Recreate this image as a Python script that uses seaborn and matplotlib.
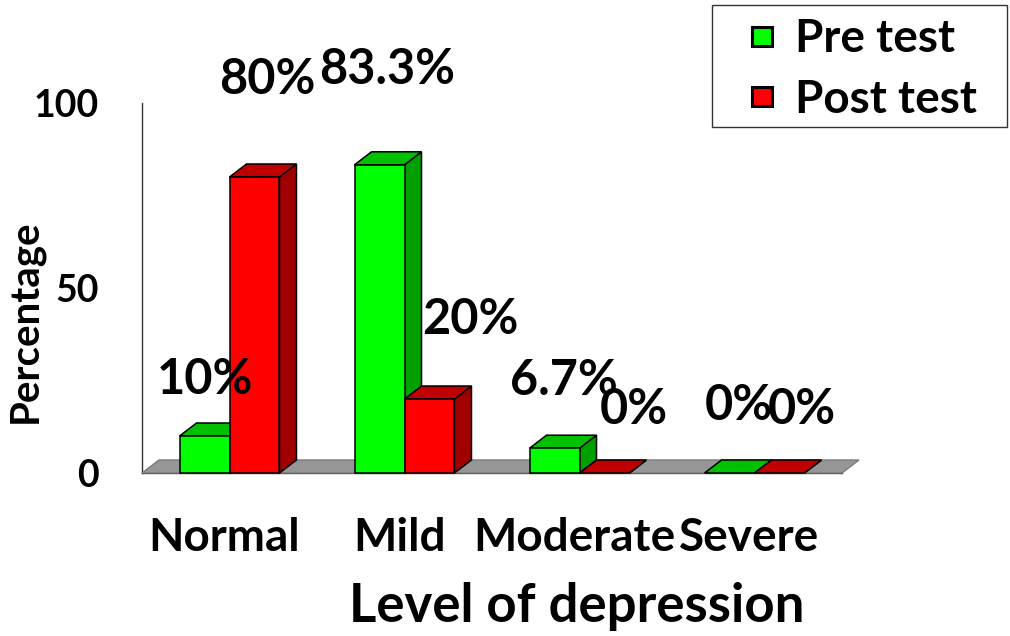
import numpy as np
import pandas as pd
import matplotlib
matplotlib.use("Agg")
import matplotlib.pyplot as plt
import matplotlib.transforms as mtransforms
import seaborn as sns
from matplotlib.patches import Polygon, Rectangle, Patch
from matplotlib.legend_handler import HandlerPatch

# ---------------- data ----------------
categories = ["Normal", "Mild", "Moderate", "Severe"]
pre_test = [10, 83.3, 6.7, 0]
post_test = [80, 20, 0, 0]
series_names = ["Pre test", "Post test"]
y_ticks = [0, 50, 100]

# ---------------- style ----------------
front_colors = {"Pre test": "#00FF00", "Post test": "#FF0000"}
top_colors = {"Pre test": "#00C000", "Post test": "#C00000"}
side_colors = {"Pre test": "#00A000", "Post test": "#A00000"}
# label offsets (pixels) from the bar's top-centre, per series
label_offsets = {
    "Pre test": [(0, 56), (8, 95), (9, 68), (9, 68)],
    "Post test": [(13, 97), (41, 79), (29, 63), (22, 63)],
}
DEPTH_PX = (17, 13)

sns.set_style("white")
plt.rcParams["font.family"] = ["Lato", "DejaVu Sans"]
plt.rcParams["font.weight"] = "bold"
plt.rcParams["text.color"] = "black"
plt.rcParams["axes.labelcolor"] = "black"
plt.rcParams["xtick.color"] = "black"
plt.rcParams["ytick.color"] = "black"

df = pd.DataFrame({
    "Level": categories * 2,
    "Percentage": pre_test + post_test,
    "Test": [series_names[0]] * len(categories) + [series_names[1]] * len(categories),
})

fig = plt.figure(figsize=(10.10, 6.36), dpi=100)
ax = fig.add_axes([142 / 1010, (636 - 473) / 636, 700 / 1010, 370 / 636])

sns.barplot(data=df, x="Level", y="Percentage", hue="Test",
            order=categories, hue_order=series_names,
            palette=front_colors, saturation=1, width=0.571,
            edgecolor="black", linewidth=1.1, legend=False, ax=ax)

ax.set_xlim(-0.5, len(categories) - 0.5)
ax.set_ylim(0, 100)

# depth in data units
inv = ax.transData.inverted()
p0 = ax.transData.transform((0, 0))
p1 = inv.transform(p0 + np.array(DEPTH_PX))
ddx, ddy = p1[0], p1[1]

# floor
x0, x1 = ax.get_xlim()
floor = Polygon([(x0, 0), (x0 + ddx, ddy), (x1 + ddx, ddy), (x1, 0)],
                closed=True, facecolor="#969696", edgecolor="#7a7a7a",
                linewidth=1.0, zorder=1, clip_on=False)
ax.add_patch(floor)

# 3D faces on each bar, drawn series by series so later bars overlap
z = 2
for ci, cont in enumerate(ax.containers):
    name = series_names[ci]
    for bi, bar in enumerate(cont.patches):
        bx0 = bar.get_x()
        bx1 = bx0 + bar.get_width()
        h = bar.get_height()
        side = Polygon([(bx1, 0), (bx1 + ddx, ddy), (bx1 + ddx, h + ddy), (bx1, h)],
                       closed=True, facecolor=side_colors[name], edgecolor="black",
                       linewidth=1.1, zorder=z + bi * 10 + ci * 3, clip_on=False)
        top = Polygon([(bx0, h), (bx0 + ddx, h + ddy), (bx1 + ddx, h + ddy), (bx1, h)],
                      closed=True, facecolor=top_colors[name], edgecolor="black",
                      linewidth=1.1, zorder=z + bi * 10 + ci * 3 + 1, clip_on=False)
        ax.add_patch(side)
        ax.add_patch(top)
        bar.set_zorder(z + bi * 10 + ci * 3 + 2)
        bar.set_clip_on(False)
        if h == 0:
            bar.set_visible(False)
        dxo, dyo = label_offsets[name][bi]
        ax.annotate(f"{h:g}%", xy=(bx0 + bar.get_width() / 2, h),
                    xytext=(dxo, dyo), textcoords="offset pixels",
                    ha="center", va="center", fontsize=35, fontweight="bold",
                    color="black", zorder=100, annotation_clip=False)

# axes styling
for s in ["top", "right"]:
    ax.spines[s].set_visible(False)
for s in ["left", "bottom"]:
    ax.spines[s].set_color("#333333")
    ax.spines[s].set_linewidth(1.0)
    ax.spines[s].set_zorder(0.5)

ax.set_yticks(y_ticks)
ax.set_yticklabels([str(t) for t in y_ticks])
ax.tick_params(axis="y", direction="out", length=9, width=1.0, color="#333333",
               pad=22, labelsize=27, labelcolor="black")
for lbl in ax.get_yticklabels():
    lbl.set_fontweight("bold")

# category boundaries as major ticks, names as minor ticks
ax.set_xticks(np.arange(-0.5, len(categories), 1.0))
ax.set_xticklabels([])
ax.set_xticks(np.arange(len(categories)), minor=True)
ax.set_xticklabels(categories, minor=True)
ax.tick_params(axis="x", which="major", direction="out", length=12, width=1.0,
               color="#333333")
ax.tick_params(axis="x", which="minor", length=0, pad=32, labelsize=33,
               labelcolor="black")
shift = mtransforms.ScaledTranslation(-5 / 100, 0, fig.dpi_scale_trans)
for lbl in ax.get_xticklabels(minor=True):
    lbl.set_fontweight("bold")
    lbl.set_transform(lbl.get_transform() + shift)

ax.set_xlabel("Level of depression", fontsize=38, fontweight="bold", color="black")
ax.xaxis.set_label_coords(0.621, -0.295)
ax.set_ylabel("Percentage", fontsize=29, fontweight="bold", color="black")
ax.yaxis.set_label_coords(-0.14, 0.41)


# legend with square swatches
def square_patch(legend, orig_handle, xdescent, ydescent, width, height, fontsize):
    s = 14
    return Rectangle((-xdescent + width - s, -ydescent + height / 2 - s / 2), s, s)


handles = [Patch(facecolor=front_colors[nm], edgecolor="black", linewidth=2.2)
           for nm in series_names]
leg = fig.legend(handles, series_names, loc="upper right",
                 bbox_to_anchor=(988 / 1010, 1 - 7 / 636),
                 bbox_transform=fig.transFigure, frameon=False,
                 prop={"size": 33, "weight": "bold"}, borderpad=0.25,
                 labelspacing=0.4, handlelength=1.0, handletextpad=0.5,
                 borderaxespad=0, labelcolor="black",
                 handler_map={Patch: HandlerPatch(patch_func=square_patch)})
# legend frame box
fig.patches.append(Rectangle((712 / 1010, 1 - 127 / 636), 295 / 1010, 122 / 636,
                             transform=fig.transFigure, fill=False,
                             edgecolor="#333333", linewidth=1.0, figure=fig))

fig.savefig("out.png", dpi=100)
